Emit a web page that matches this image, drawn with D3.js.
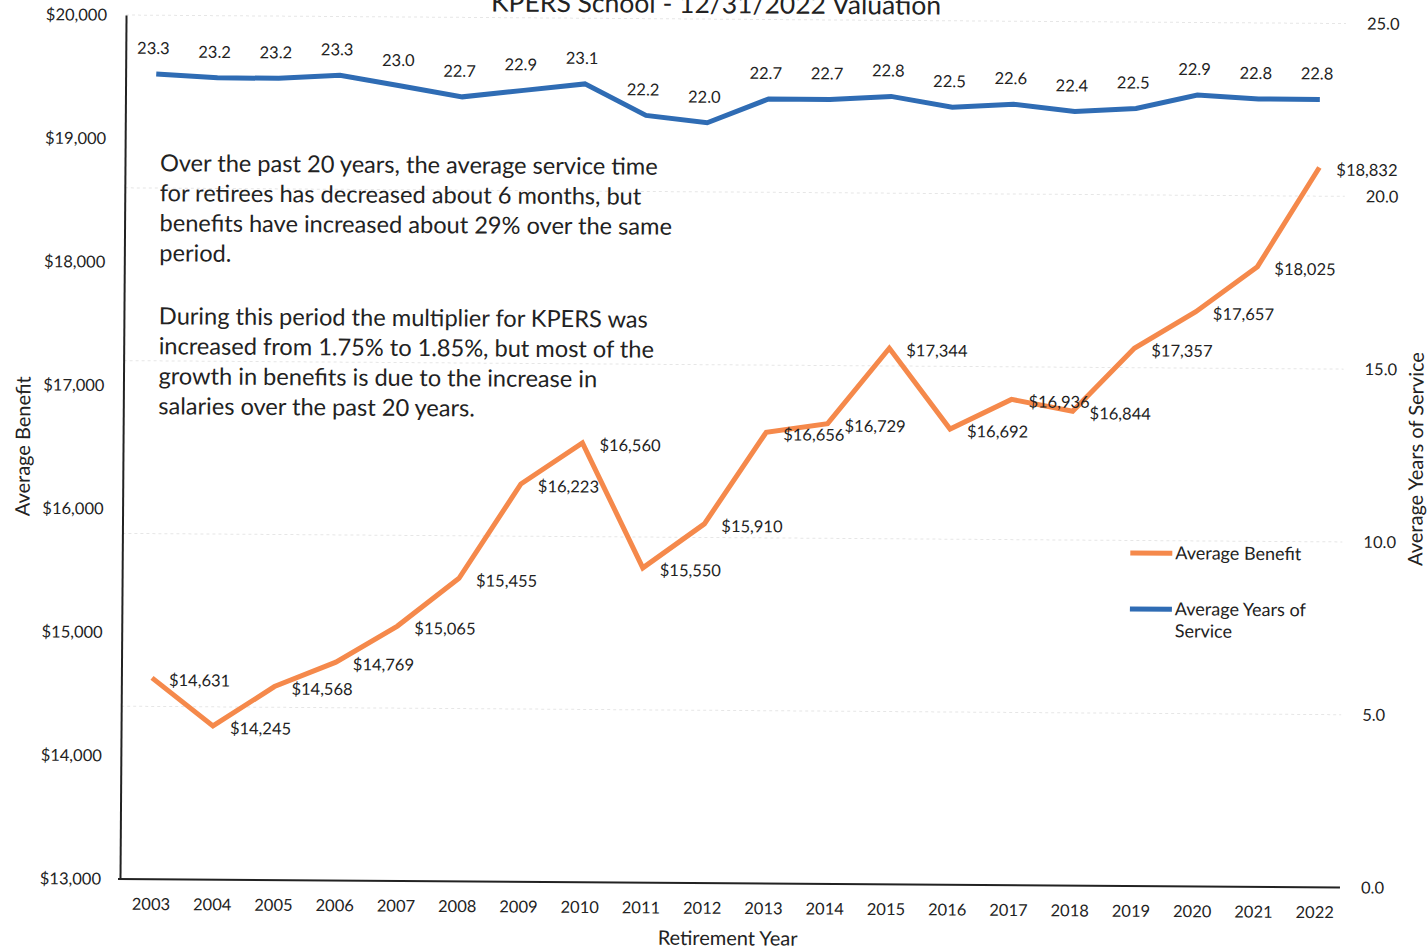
<!DOCTYPE html>
<html>
<head>
<meta charset="utf-8">
<script src="https://cdn.jsdelivr.net/npm/d3@7"></script>
<style>
  body { margin: 0; background: #fff; }
  svg text { font-family: Lato, "Noto Sans", sans-serif; fill: #222; }
</style>
</head>
<body>
<svg id="chart"></svg>
<script>
const years = ["2003", "2004", "2005", "2006", "2007", "2008", "2009", "2010", "2011", "2012",
    "2013", "2014", "2015", "2016", "2017", "2018", "2019", "2020", "2021", "2022"];
const avgBenefit = [14631, 14245, 14568, 14769, 15065, 15455, 16223, 16560, 15550, 15910,
    16656, 16729, 17344, 16692, 16936, 16844, 17357, 17657, 18025, 18832];
const avgService = [23.3, 23.2, 23.2, 23.3, 23.0, 22.7, 22.9, 23.1, 22.2, 22.0,
    22.7, 22.7, 22.8, 22.5, 22.6, 22.4, 22.5, 22.9, 22.8, 22.8];
const benefitTicks = [13000, 14000, 15000, 16000, 17000, 18000, 19000, 20000];
const serviceTicks = [0, 5, 10, 15, 20, 25];
const notes = [
    ["Over the past 20 years, the average service time",
     "for retirees has decreased about 6 months, but",
     "benefits have increased about 29% over the same",
     "period."],
    ["During this period the multiplier for KPERS was",
     "increased from 1.75% to 1.85%, but most of the",
     "growth in benefits is due to the increase in",
     "salaries over the past 20 years."]
];

const width = 1427;
const height = 950;
const plot = { left: 120, right: 1345, top: 15, bottom: 879 };
const orange = "#f5894b";
const blue = "#2f6cb4";

const svg = d3.select("#chart")
    .attr("width", width)
    .attr("height", height);

// the scanned page is a little tilted
const g = svg.append("g")
    .attr("transform", `rotate(0.4, ${plot.left}, ${plot.bottom})`);

const x = d3.scalePoint()
    .domain(years)
    .range([plot.left, plot.right])
    .padding(0.5);

const yLeft = d3.scaleLinear()
    .domain([13000, 20000])
    .range([plot.bottom, plot.top]);

const yRight = d3.scaleLinear()
    .domain([0, 25])
    .range([plot.bottom, plot.top]);

// title, cut off by the top edge like the scan
g.append("text")
    .attr("x", 710)
    .attr("y", 9)
    .attr("text-anchor", "middle")
    .style("font-size", "26.5px")
    .text("KPERS School - 12/31/2022 Valuation");

// faint grid
g.append("g")
    .selectAll("line")
    .data(serviceTicks.filter(d => d > 0))
    .join("line")
    .attr("x1", plot.left)
    .attr("x2", 1340)
    .attr("y1", d => yRight(d))
    .attr("y2", d => yRight(d))
    .attr("stroke", "#e6e6e6")
    .attr("stroke-dasharray", "3,3");

// left axis
const leftAxis = g.append("g")
    .attr("transform", `translate(${plot.left},0)`)
    .call(d3.axisLeft(yLeft)
        .tickValues(benefitTicks)
        .tickSize(0)
        .tickPadding(19)
        .tickFormat(d => "$" + d3.format(",")(d)));
leftAxis.select(".domain").attr("stroke", "#222").attr("stroke-width", 2);
leftAxis.selectAll("text").style("font-size", "16.5px").attr("fill", "#222");

// right axis, labels only
const rightAxis = g.append("g")
    .attr("transform", `translate(1340,0)`)
    .call(d3.axisRight(yRight)
        .tickValues(serviceTicks)
        .tickSize(0)
        .tickPadding(21)
        .tickFormat(d3.format(".1f")));
rightAxis.select(".domain").remove();
rightAxis.selectAll("text").style("font-size", "16.5px").attr("fill", "#222");

// bottom axis
const bottomAxis = g.append("g")
    .attr("transform", `translate(0,${plot.bottom})`)
    .call(d3.axisBottom(x).tickSize(0).tickPadding(19));
bottomAxis.select(".domain")
    .attr("d", `M${plot.left - 2},0H1340`)
    .attr("stroke", "#222")
    .attr("stroke-width", 2);
bottomAxis.selectAll("text").style("font-size", "16.5px").attr("fill", "#222");

// axis titles
g.append("text")
    .attr("transform", `translate(27,447) rotate(-90)`)
    .attr("text-anchor", "middle")
    .style("font-size", "20px")
    .text("Average Benefit");

g.append("text")
    .attr("transform", `translate(1420,450) rotate(-90)`)
    .attr("text-anchor", "middle")
    .style("font-size", "20px")
    .text("Average Years of Service");

g.append("text")
    .attr("x", 728)
    .attr("y", 941)
    .attr("text-anchor", "middle")
    .style("font-size", "20px")
    .text("Retirement Year");

// lines
const benefitLine = d3.line()
    .x((d, i) => x(years[i]))
    .y(d => yLeft(d));

const serviceLine = d3.line()
    .x((d, i) => x(years[i]))
    .y(d => yRight(d));

g.append("path")
    .attr("d", benefitLine(avgBenefit))
    .attr("fill", "none")
    .attr("stroke", orange)
    .attr("stroke-width", 5);

g.append("path")
    .attr("d", serviceLine(avgService))
    .attr("fill", "none")
    .attr("stroke", blue)
    .attr("stroke-width", 5);

// data labels
g.append("g")
    .selectAll("text")
    .data(avgBenefit)
    .join("text")
    .attr("x", (d, i) => x(years[i]) + 17)
    .attr("y", d => yLeft(d) + 8)
    .style("font-size", "16.5px")
    .text(d => "$" + d3.format(",")(d));

g.append("g")
    .selectAll("text")
    .data(avgService)
    .join("text")
    .attr("x", (d, i) => x(years[i]) - 3)
    .attr("y", d => yRight(d) - 20)
    .attr("text-anchor", "middle")
    .style("font-size", "16.5px")
    .text(d => d3.format(".1f")(d));

// annotation
const note = g.append("g");
notes.forEach((para, p) => {
    para.forEach((line, i) => {
        note.append("text")
            .attr("x", 155)
            .attr("y", 171 + p * 153 + i * 30)
            .style("font-size", "23.6px")
            .text(line);
    });
});

// legend
const legend = g.append("g").attr("transform", "translate(1128,546)");
legend.append("line")
    .attr("x1", 0).attr("x2", 42)
    .attr("stroke", orange).attr("stroke-width", 5);
legend.append("text")
    .attr("x", 45).attr("y", 6)
    .style("font-size", "18px")
    .text("Average Benefit");
legend.append("line")
    .attr("x1", 0).attr("x2", 42)
    .attr("y1", 56).attr("y2", 56)
    .attr("stroke", blue).attr("stroke-width", 5);
legend.append("text")
    .attr("x", 45).attr("y", 62)
    .style("font-size", "18px")
    .text("Average Years of");
legend.append("text")
    .attr("x", 45).attr("y", 84)
    .style("font-size", "18px")
    .text("Service");
</script>
</body>
</html>
